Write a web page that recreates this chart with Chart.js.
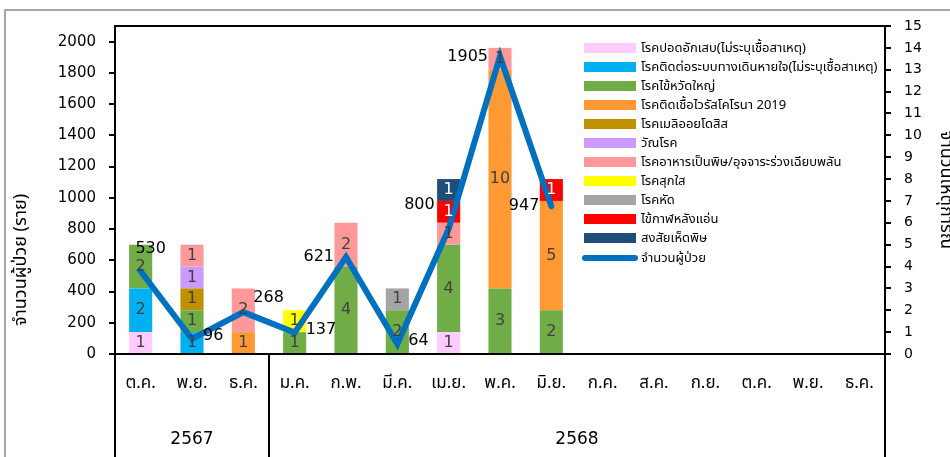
<!DOCTYPE html>
<html>
<head>
<meta charset="utf-8">
<script src="https://cdn.jsdelivr.net/npm/chart.js@4.4.1/dist/chart.umd.min.js"></script>
<style>
  body { margin: 0; background: #fff; }
  #wrap { position: relative; width: 950px; height: 457px; overflow: hidden; }
  #legend { position: absolute; left: 582px; top: 38px; width: 303px; overflow: hidden;
            font-family: Tahoma, 'Noto Sans Thai', 'DejaVu Sans', sans-serif; font-size: 13px; color: #000; }
  .item { height: 19.1px; display: flex; align-items: center; white-space: nowrap; }
  .sw { width: 52px; height: 10px; margin-left: 2px; margin-right: 5px; flex: none; }
  .ln { width: 56px; height: 6px; border-radius: 3px; margin-right: 3px; flex: none; }
</style>
</head>
<body>
<div id="wrap">
  <canvas id="eventChart" width="950" height="457"></canvas>
  <div id="legend"></div>
</div>
<script>
const months = ['ต.ค.', 'พ.ย.', 'ธ.ค.', 'ม.ค.', 'ก.พ.', 'มี.ค.', 'เม.ย.', 'พ.ค.', 'มิ.ย.', 'ก.ค.', 'ส.ค.', 'ก.ย.', 'ต.ค.', 'พ.ย.', 'ธ.ค.'];
const yearLabels = ['2567', '2568'];
const yearSpans = [3, 12];
const patientTicks = [0, 200, 400, 600, 800, 1000, 1200, 1400, 1600, 1800, 2000];

// number of events per month (right axis)
const pneumonia = [1, null, null, null, null, null, 1, null, null, null, null, null, null, null, null];
const respiratory = [2, 1, null, null, null, null, null, null, null, null, null, null, null, null, null];
const influenza = [2, 1, null, 1, 4, 2, 4, 3, 2, null, null, null, null, null, null];
const covid19 = [null, null, 1, null, null, null, null, 10, 5, null, null, null, null, null, null];
const melioidosis = [null, 1, null, null, null, null, null, null, null, null, null, null, null, null, null];
const tuberculosis = [null, 1, null, null, null, null, null, null, null, null, null, null, null, null, null];
const foodPoisoning = [null, 1, 2, null, 2, null, 1, 1, null, null, null, null, null, null, null];
const chickenpox = [null, null, null, 1, null, null, null, null, null, null, null, null, null, null, null];
const measles = [null, null, null, null, null, 1, null, null, null, null, null, null, null, null, null];
const meningococcal = [null, null, null, null, null, null, 1, null, 1, null, null, null, null, null, null];
const mushroom = [null, null, null, null, null, null, 1, null, null, null, null, null, null, null, null];

// number of patients (left axis)
const patients = [530, 96, 268, 137, 621, 64, 800, 1905, 947, null, null, null, null, null, null];
const patientLabelPos = ['above', 'right', 'aboveRight', 'right', 'left', 'right', 'aboveLeft', 'left', 'left'];

const thaiFont = "Tahoma, 'Noto Sans Thai', 'DejaVu Sans', sans-serif";

function bar(label, data, color, textColor) {
    return {
        type: 'bar',
        label: label,
        data: data,
        backgroundColor: color,
        yAxisID: 'yEvents',
        stack: 'events',
        order: 1,
        barPercentage: 0.45,
        categoryPercentage: 1,
        textColor: textColor || '#404040'
    };
}

const decor = {
    id: 'decor',
    beforeDraw(chart) {
        const ctx = chart.ctx;
        ctx.save();
        ctx.strokeStyle = '#a6a6a6';
        ctx.lineWidth = 2;
        ctx.beginPath();
        ctx.moveTo(5, 457);
        ctx.lineTo(5, 10);
        ctx.lineTo(950, 10);
        ctx.stroke();
        ctx.restore();
    },
    afterDatasetsDraw(chart) {
        const ctx = chart.ctx;
        ctx.save();
        ctx.textAlign = 'center';
        ctx.textBaseline = 'middle';
        ctx.font = "16px 'DejaVu Sans', sans-serif";
        chart.data.datasets.forEach((ds, i) => {
            if (ds.type !== 'bar') return;
            chart.getDatasetMeta(i).data.forEach((el, j) => {
                if (ds.data[j] == null) return;
                ctx.fillStyle = ds.textColor;
                ctx.fillText(String(ds.data[j]), el.x, (el.y + el.base) / 2);
            });
        });
        const li = chart.data.datasets.findIndex(d => d.type === 'line');
        ctx.fillStyle = '#000';
        chart.getDatasetMeta(li).data.forEach((el, j) => {
            const v = patients[j];
            if (v == null) return;
            const pos = patientLabelPos[j];
            let x = el.x, y = el.y;
            if (pos === 'right') { ctx.textAlign = 'left'; x += 11; y -= 3; }
            else if (pos === 'left') { ctx.textAlign = 'right'; x -= 12; }
            else if (pos === 'above') { ctx.textAlign = 'center'; x += 10; y -= 22; }
            else if (pos === 'aboveRight') { ctx.textAlign = 'left'; x += 10; y -= 14; }
            else if (pos === 'aboveLeft') { ctx.textAlign = 'right'; x -= 14; y -= 24; }
            ctx.fillText(String(v), x, y);
        });
        ctx.restore();
    },
    afterDraw(chart) {
        const ctx = chart.ctx;
        const a = chart.chartArea;
        const x = chart.scales.x;
        const half = (x.getPixelForValue(1) - x.getPixelForValue(0)) / 2;
        ctx.save();
        ctx.strokeStyle = '#000';
        ctx.lineWidth = 2;
        ctx.beginPath();
        ctx.moveTo(a.left, a.top);
        ctx.lineTo(a.right, a.top);
        ctx.stroke();
        // year groups under the month labels
        let start = 0;
        ctx.fillStyle = '#000';
        ctx.font = "17px 'DejaVu Sans', sans-serif";
        ctx.textAlign = 'center';
        ctx.textBaseline = 'middle';
        const bounds = [x.getPixelForValue(0) - half];
        yearSpans.forEach((n, k) => {
            const l = x.getPixelForValue(start) - half;
            const r = x.getPixelForValue(start + n - 1) + half;
            bounds.push(r);
            ctx.fillText(yearLabels[k], (l + r) / 2, 440);
            start += n;
        });
        bounds.forEach(b => {
            ctx.beginPath();
            ctx.moveTo(b, a.bottom);
            ctx.lineTo(b, 457);
            ctx.stroke();
        });
        // axis titles
        ctx.font = '18px ' + thaiFont;
        ctx.translate(22, 260);
        ctx.rotate(-Math.PI / 2);
        ctx.fillText('จำนวนผู้ป่วย (ราย)', 0, 0);
        ctx.setTransform(1, 0, 0, 1, 0, 0);
        ctx.translate(945, 190);
        ctx.rotate(Math.PI / 2);
        ctx.fillText('จำนวนเหตุการณ์', 0, 0);
        ctx.restore();
    }
};

const ctx = document.getElementById('eventChart').getContext('2d');
const eventChart = new Chart(ctx, {
    data: {
        labels: months,
        datasets: [
            {
                type: 'line',
                label: 'จำนวนผู้ป่วย',
                data: patients,
                borderColor: '#0070c0',
                backgroundColor: '#0070c0',
                borderWidth: 6,
                borderCapStyle: 'round',
                pointRadius: 0,
                tension: 0,
                yAxisID: 'yPatients',
                order: 0
            },
            bar('โรคปอดอักเสบ(ไม่ระบุเชื้อสาเหตุ)', pneumonia, '#ffccff'),
            bar('โรคติดต่อระบบทางเดินหายใจ(ไม่ระบุเชื้อสาเหตุ)', respiratory, '#00b0f0'),
            bar('โรคไข้หวัดใหญ่', influenza, '#70ad47'),
            bar('โรคติดเชื้อไวรัสโคโรนา 2019', covid19, '#ff9933'),
            bar('โรคเมลิออยโดสิส', melioidosis, '#bf9000'),
            bar('วัณโรค', tuberculosis, '#cc99ff'),
            bar('โรคอาหารเป็นพิษ/อุจจาระร่วงเฉียบพลัน', foodPoisoning, '#ff9999'),
            bar('โรคสุกใส', chickenpox, '#ffff00'),
            bar('โรคหัด', measles, '#a5a5a5'),
            bar('ไข้กาฬหลังแอ่น', meningococcal, '#ff0000', '#ffffff'),
            bar('สงสัยเห็ดพิษ', mushroom, '#1f4e79', '#ffffff')
        ]
    },
    options: {
        responsive: false,
        animation: false,
        layout: { padding: { top: 26, left: 0, right: 0, bottom: 0 } },
        plugins: {
            legend: { display: false },
            tooltip: { enabled: false }
        },
        scales: {
            x: {
                stacked: true,
                grid: { display: false, drawTicks: false },
                border: { color: '#000', width: 2 },
                ticks: { color: '#000', font: { family: thaiFont, size: 17 }, padding: 20, maxRotation: 0, autoSkip: false },
                afterFit(s) { s.height = 103; }
            },
            yPatients: {
                position: 'left',
                min: 0,
                max: 2100,
                grid: { drawOnChartArea: false, color: '#000', lineWidth: 2, tickLength: 6 },
                border: { color: '#000', width: 2 },
                ticks: { color: '#000', padding: 13, font: { family: "'DejaVu Sans', sans-serif", size: 15 }, callback: v => String(v) },
                afterBuildTicks(s) { s.ticks = patientTicks.map(v => ({ value: v })); },
                afterFit(s) { s.width = 115; }
            },
            yEvents: {
                position: 'right',
                stacked: true,
                min: 0,
                max: 15,
                grid: { drawOnChartArea: false, color: '#000', lineWidth: 2, tickLength: 6 },
                border: { color: '#000', width: 2 },
                ticks: { stepSize: 1, color: '#000', padding: 13, font: { family: "'DejaVu Sans', sans-serif", size: 14 } },
                afterFit(s) { s.width = 65; }
            }
        }
    },
    plugins: [decor]
});

// legend in the plot corner, same order as the bars, line last
const legend = document.getElementById('legend');
const order = eventChart.data.datasets.slice(1).concat(eventChart.data.datasets[0]);
order.forEach(ds => {
    const item = document.createElement('div');
    item.className = 'item';
    const sw = document.createElement('span');
    sw.className = ds.type === 'line' ? 'ln' : 'sw';
    sw.style.background = ds.type === 'line' ? ds.borderColor : ds.backgroundColor;
    const txt = document.createElement('span');
    txt.textContent = ds.label;
    item.appendChild(sw);
    item.appendChild(txt);
    legend.appendChild(item);
});
</script>
</body>
</html>
